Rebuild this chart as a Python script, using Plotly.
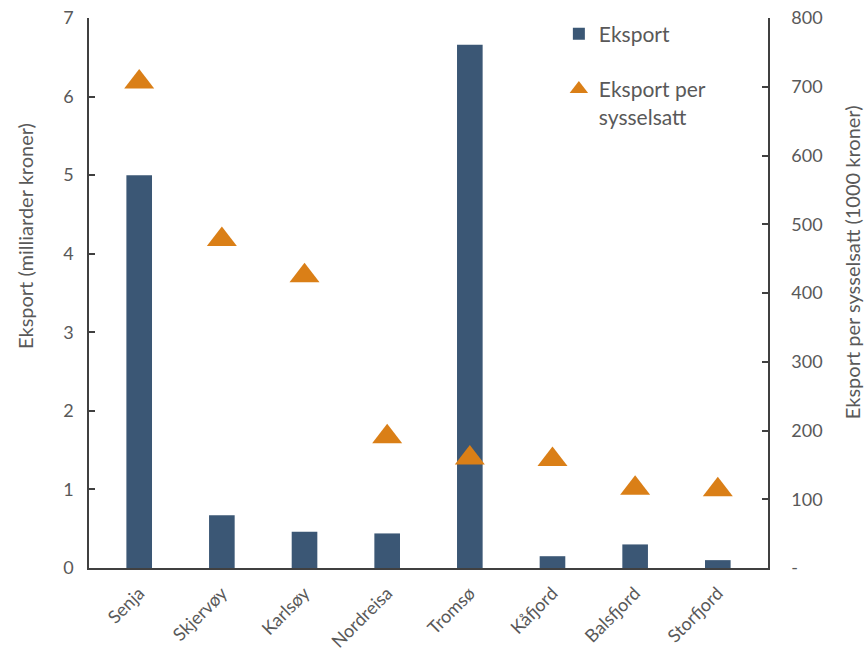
import plotly.graph_objects as go

categories = ["Senja", "Skjervøy", "Karlsøy", "Nordreisa", "Tromsø", "Kåfjord", "Balsfjord", "Storfjord"]
eksport = [5.0, 0.67, 0.46, 0.44, 6.66, 0.15, 0.30, 0.10]
eksport_per_sysselsatt = [707, 478, 425, 191, 160, 158, 116, 114]

left_ticks = [0, 1, 2, 3, 4, 5, 6, 7]
right_ticks = [0, 100, 200, 300, 400, 500, 600, 700, 800]
right_ticktext = ["-", "100", "200", "300", "400", "500", "600", "700", "800"]

left_title = "Eksport (milliarder kroner)"
right_title = "Eksport per sysselsatt (1000 kroner)"

BAR = "#3B5775"
TRI = "#DA7F17"
TXT = "#595959"
AX = "#404040"
FONT = "Lato, Open Sans, sans-serif"

fig = go.Figure()
fig.add_trace(go.Bar(
    x=categories, y=eksport, name="Eksport",
    marker=dict(color=BAR, line=dict(width=0)),
    legendgroup="a", yaxis="y",
))
fig.add_trace(go.Scatter(
    x=categories, y=eksport_per_sysselsatt, name="Eksport per<br>sysselsatt",
    mode="markers",
    marker=dict(symbol="triangle-up", size=26, color=TRI, line=dict(width=0)),
    legendgroup="b", yaxis="y2",
))

fig.update_layout(
    width=864, height=656,
    margin=dict(l=89, r=96, t=18, b=88),
    paper_bgcolor="white", plot_bgcolor="white",
    font=dict(family=FONT, color=TXT, size=18),
    bargap=0.69,
    showlegend=True,
    legend=dict(
        x=0.692, y=1.008, xanchor="left", yanchor="top",
        font=dict(size=21, color=TXT, family=FONT),
        tracegroupgap=25, valign="top",
        bgcolor="rgba(0,0,0,0)",
    ),
    xaxis=dict(
        showline=True, linecolor=AX, linewidth=1.5,
        ticks="", tickangle=-45, automargin=False,
        tickfont=dict(size=18, color=TXT),
        ticklabelstandoff=6,
    ),
    yaxis=dict(
        range=[0, 7], tickvals=left_ticks, automargin=False,
        showgrid=False, zeroline=False,
        showline=True, linecolor=AX, linewidth=1.5,
        ticks="inside", ticklen=6, tickcolor=AX, tickwidth=1.5,
        tickfont=dict(size=18, color=TXT),
        ticklabelstandoff=10,
    ),
    yaxis2=dict(
        range=[0, 800], tickvals=right_ticks, ticktext=right_ticktext,
        overlaying="y", side="right", automargin=False,
        showgrid=False, zeroline=False,
        showline=True, linecolor=AX, linewidth=1.5,
        ticks="inside", ticklen=6, tickcolor=AX, tickwidth=1.5,
        tickfont=dict(size=18, color=TXT),
        ticklabelstandoff=18,
    ),
    annotations=[
        dict(text=left_title, xref="paper", yref="paper", x=-0.0943, y=0.6036,
             textangle=-90, showarrow=False, xanchor="center", yanchor="middle",
             font=dict(size=20, color=TXT, family=FONT)),
        dict(text=right_title, xref="paper", yref="paper", x=1.1237, y=0.556,
             textangle=-90, showarrow=False, xanchor="center", yanchor="middle",
             font=dict(size=20, color=TXT, family=FONT)),
    ],
)

fig.write_html(
    "out.html",
    config={"displayModeBar": False},
    post_script="document.body.style.margin='0';document.body.style.overflow='hidden';",
)
